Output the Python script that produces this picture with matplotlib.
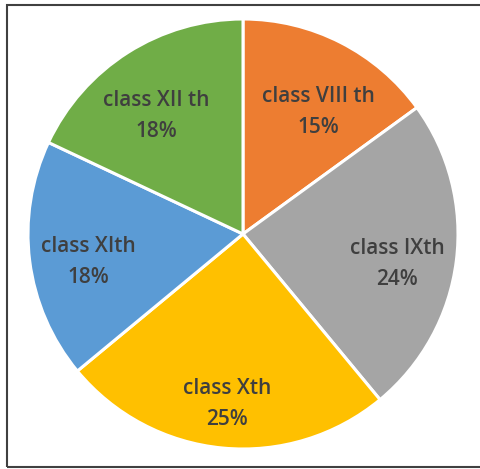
import matplotlib
matplotlib.use("Agg")
import matplotlib.pyplot as plt
from matplotlib.patches import Rectangle
import numpy as np

# Data
categories = ["class VIII th", "class IXth", "class Xth", "class XIth", "class XII th"]
values = [15, 24, 25, 18, 18]
colors = ["#ED7D31", "#A5A5A5", "#FFC000", "#5B9BD5", "#70AD47"]

# Layout: label radial distance (fraction of radius) and angular nudge (deg, clockwise)
label_dist = [0.666, 0.730, 0.794, 0.733, 0.682]
label_nudge = [4.6, 3.8, 0.0, -3.0, -4.0]

W, H = 480, 469
fig = plt.figure(figsize=(W / 100, H / 100), dpi=100)
fig.patch.set_facecolor("white")

cx, cy, r = 243, 234, 215
ax = fig.add_axes([(cx - r) / W, (H - cy - r) / H, 2 * r / W, 2 * r / H])
wedges, _ = ax.pie(values, colors=colors, startangle=90, counterclock=False,
                   wedgeprops=dict(edgecolor="white", linewidth=2.2))
ax.set_xlim(-1, 1)
ax.set_ylim(-1, 1)
ax.set_aspect("equal")
ax.axis("off")

total = sum(values)
for w, cat, v, d, nd in zip(wedges, categories, values, label_dist, label_nudge):
    ang = np.deg2rad((w.theta1 + w.theta2) / 2 - nd)
    x, y = d * np.cos(ang), d * np.sin(ang)
    ax.text(x, y, f"{cat}\n{round(100 * v / total)}%", ha="center", va="center",
            fontsize=15, color="#3f3f3f", family=["Open Sans", "DejaVu Sans"],
            fontweight="semibold", linespacing=1.6)

# Outer border
fig.patches.append(Rectangle((7 / W, (H - 466.5) / H), (W + 10 - 7) / W, (466.5 - 5) / H,
                             transform=fig.transFigure, fill=False,
                             edgecolor="#404040", linewidth=1.5))

fig.savefig("out.png", dpi=100)
